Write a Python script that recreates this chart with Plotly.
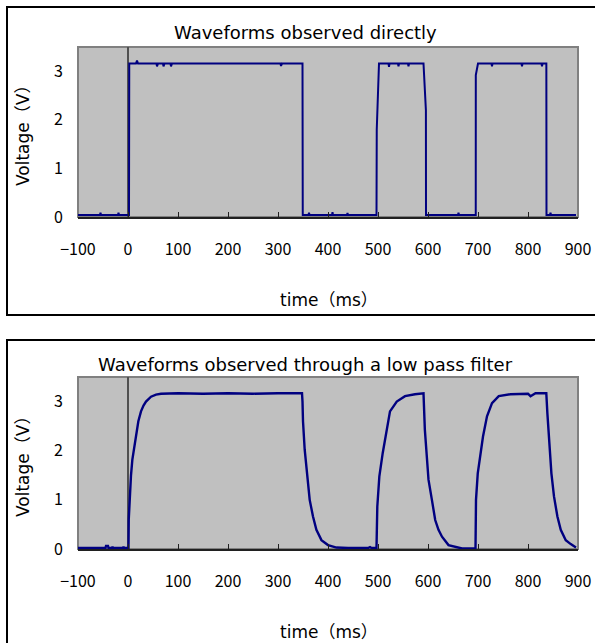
import plotly.graph_objects as go

# ---------------- data ----------------
x_ticks = [-100, 0, 100, 200, 300, 400, 500, 600, 700, 800, 900]
y_ticks = [0, 1, 2, 3]

# Waveform observed directly
t_direct = [-100, -56, -55, -54, -20, -19, -18, 2, 2.5, 16, 18, 20, 57, 58, 60, 70, 71, 73,
            85, 86, 88, 305, 306, 308, 349, 349.5, 361, 362, 363, 408, 409, 410, 438, 439, 440,
            497, 497.5, 502, 521, 522, 523, 540, 541, 542, 560, 561, 562, 591, 595.8, 596,
            660, 661, 662, 695.5, 695.6, 700, 727, 728, 729, 787, 788, 789, 827, 828, 829,
            836.7, 837, 844, 845, 846, 896]
v_direct = [0.04, 0.04, 0.09, 0.04, 0.04, 0.09, 0.04, 0.04, 3.16, 3.16, 3.22, 3.16, 3.16, 3.10, 3.16, 3.16, 3.10, 3.16,
            3.16, 3.10, 3.16, 3.16, 3.11, 3.16, 3.16, 0.04, 0.04, 0.09, 0.04, 0.04, 0.10, 0.04, 0.04, 0.08, 0.04,
            0.04, 1.80, 3.16, 3.16, 3.09, 3.16, 3.16, 3.10, 3.16, 3.16, 3.10, 3.16, 3.16, 2.20, 0.04,
            0.04, 0.09, 0.04, 0.04, 2.92, 3.16, 3.16, 3.10, 3.16, 3.16, 3.10, 3.16, 3.16, 3.10, 3.16,
            3.16, 0.04, 0.04, 0.09, 0.04, 0.04]

# Waveform observed through a low pass filter
t_filter = [-100, -45, -44, -40, -39, -32, -31, -30, -10, -9, -8, 1,
            1.5, 3, 4, 6, 8.7, 12, 15.4, 20.7, 26, 31, 36, 46, 56, 66, 100, 150, 200, 250, 300, 348,
            349, 350, 353.4, 357.9, 363.4, 370, 376.8, 386.9, 400, 417, 440, 480, 484, 487, 497,
            498.6, 502.7, 509.4, 517.4, 524, 537.5, 554, 574, 591,
            593.7, 597.7, 601, 607.8, 614.4, 621, 628, 641, 668, 695,
            696, 699.5, 704.8, 710, 718, 728, 741.5, 765, 800, 805, 815, 836.6,
            838.7, 842, 846.8, 852, 858.8, 865.5, 875.5, 885.5, 893.6, 896]
v_filter = [0.02, 0.02, 0.06, 0.06, 0.02, 0.02, 0.05, 0.02, 0.02, 0.05, 0.02, 0.02,
            0.60, 0.90, 1.27, 1.50, 1.82, 2.02, 2.29, 2.60, 2.80, 2.92, 3.00, 3.10, 3.14, 3.16, 3.17, 3.16, 3.17, 3.16, 3.17, 3.17,
            3.00, 2.60, 2.02, 1.48, 1.00, 0.66, 0.39, 0.18, 0.08, 0.03, 0.02, 0.02, 0.04, 0.02, 0.02,
            0.86, 1.48, 1.95, 2.43, 2.80, 3.00, 3.11, 3.15, 3.17,
            2.43, 1.82, 1.41, 1.00, 0.59, 0.39, 0.25, 0.08, 0.01, 0.01,
            1.00, 1.54, 1.95, 2.29, 2.70, 2.97, 3.11, 3.15, 3.16, 3.11, 3.17, 3.17,
            2.77, 2.16, 1.54, 1.07, 0.66, 0.39, 0.18, 0.10, 0.05, 0.03]

titles = ["Waveforms observed directly", "Waveforms observed through a low pass filter"]
x_title = "time（ms）"
y_title = "Voltage（V）"

# ---------------- layout geometry ----------------
W, H = 595, 643
TICKFONT = "Noto Sans CJK JP"
TEXTFONT = "DejaVu Sans, Noto Sans CJK JP"
LINE = "#000080"

def px_x(p):
    return p / W

def px_y(p):
    return 1 - p / H

xdom = [px_x(78), px_x(578)]
ydom_top = [px_y(217), px_y(47)]
ydom_bot = [px_y(549), px_y(377)]
pos0 = xdom[0] + (0 - (-100)) / 1000 * (xdom[1] - xdom[0])

fig = go.Figure()
fig.add_trace(go.Scatter(x=t_direct, y=v_direct, mode="lines",
                         line=dict(color=LINE, width=2), xaxis="x", yaxis="y", showlegend=False))
fig.add_trace(go.Scatter(x=t_filter, y=v_filter, mode="lines",
                         line=dict(color=LINE, width=2.4), xaxis="x2", yaxis="y2", showlegend=False))

xcommon = dict(range=[-100, 900], tickvals=x_ticks, showgrid=False, showline=True,
               linecolor="#202020", linewidth=1.5, ticks="inside", ticklen=5, tickcolor="#202020",
               tickwidth=1, zeroline=True, zerolinecolor="#505050", zerolinewidth=1.5,
               ticklabelstandoff=17, tickfont=dict(family=TICKFONT, size=16, color="#000"),
               domain=xdom, fixedrange=True, automargin=False)
ycommon = dict(range=[0, 3.5], tickvals=y_ticks, showgrid=False, showline=False, ticks="",
               zeroline=False, ticklabelstandoff=14, automargin=False,
               tickfont=dict(family=TICKFONT, size=16, color="#000"), fixedrange=True)
yinner = dict(range=[0, 3.5], tickvals=y_ticks, showgrid=False, showline=False, ticks="inside",
              ticklen=5, tickcolor="#404040", showticklabels=False, zeroline=False,
              anchor="free", position=pos0, fixedrange=True, automargin=False)

fig.update_layout(
    width=W, height=H,
    margin=dict(l=0, r=0, t=0, b=0, autoexpand=False),
    paper_bgcolor="white", plot_bgcolor="#C0C0C0",
    xaxis=dict(**xcommon, anchor="y"),
    yaxis=dict(**ycommon, domain=ydom_top, anchor="x"),
    xaxis2=dict(**xcommon, anchor="y2"),
    yaxis2=dict(**ycommon, domain=ydom_bot, anchor="x2"),
    yaxis3=dict(**yinner, overlaying="y"),
    yaxis4=dict(**yinner, overlaying="y2"),
)

# chart frames and plot-area borders
shapes = [
    dict(type="rect", xref="paper", yref="paper", x0=px_x(7), x1=1.02, y0=px_y(315), y1=px_y(7),
         line=dict(color="#000", width=2)),
    dict(type="rect", xref="paper", yref="paper", x0=px_x(7), x1=1.02, y0=-0.05, y1=px_y(340),
         line=dict(color="#000", width=2)),
    dict(type="rect", xref="x domain", yref="y domain", x0=0, x1=1, y0=0, y1=1,
         line=dict(color="#808080", width=2), layer="below"),
    dict(type="rect", xref="x2 domain", yref="y2 domain", x0=0, x1=1, y0=0, y1=1,
         line=dict(color="#808080", width=2), layer="below"),
]
fig.update_layout(shapes=shapes)

ann = []
for ttl, ty, xt_y, yt_y in [(titles[0], 32.5, 300, 132), (titles[1], 365, 632, 463)]:
    ann.append(dict(text=ttl, xref="paper", yref="paper", x=px_x(305), y=px_y(ty),
                    xanchor="center", yanchor="middle", showarrow=False,
                    font=dict(family=TEXTFONT, size=18, color="#000")))
    ann.append(dict(text=x_title, xref="paper", yref="paper", x=px_x(329), y=px_y(xt_y),
                    xanchor="center", yanchor="middle", showarrow=False,
                    font=dict(family=TEXTFONT, size=17, color="#000")))
    ann.append(dict(text=y_title, xref="paper", yref="paper", x=px_x(23), y=px_y(yt_y),
                    xanchor="center", yanchor="middle", showarrow=False, textangle=-90,
                    font=dict(family=TEXTFONT, size=17, color="#000")))
fig.update_layout(annotations=ann)

fig.write_html("out.html",
               config={"displayModeBar": False, "staticPlot": True},
               post_script="document.body.style.margin='0px';document.body.style.overflow='hidden';")
